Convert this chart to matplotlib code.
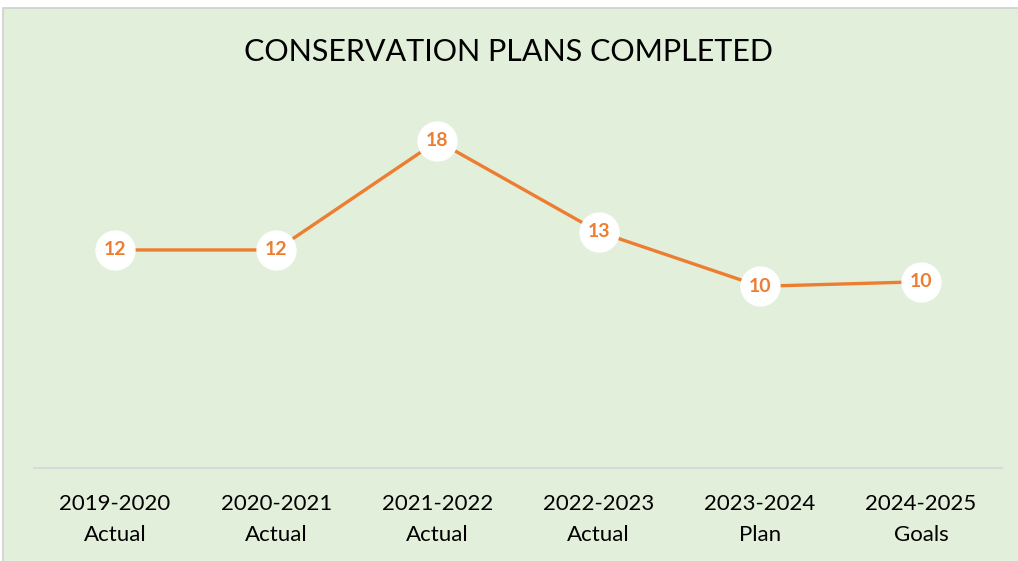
import matplotlib.pyplot as plt
from matplotlib.patches import Rectangle

# chart data
years = ['2019-2020', '2020-2021', '2021-2022', '2022-2023', '2023-2024', '2024-2025']
kinds = ['Actual', 'Actual', 'Actual', 'Actual', 'Plan', 'Goals']
plans = [12, 12, 18, 13, 10, 10.25]

orange = '#ED7D31'
green = '#E2EFDA'
plt.rcParams['font.family'] = ['Lato', 'DejaVu Sans']

W, H = 1018, 561
fig = plt.figure(figsize=(W / 100, H / 100), dpi=100)
fig.patch.set_facecolor('white')
# chart area background with thin grey frame
fig.patches.append(Rectangle((3 / W, -0.01), 1.02, (H - 8) / H + 0.01, transform=fig.transFigure,
                             facecolor=green, edgecolor='#D0D0D0', linewidth=1.2, zorder=-1))

left, right = 34.4 / W, 1001.6 / W
bottom = (H - 468) / H
top = (H - 104.6) / H
ax = fig.add_axes([left, bottom, right - left, top - bottom])
ax.set_facecolor('none')

x = list(range(len(years)))
ax.plot(x, plans, color=orange, linewidth=2.4, zorder=2,
        marker='o', markersize=28, markerfacecolor='white', markeredgecolor='white')
for xi, v in zip(x, plans):
    ax.text(xi, v, f'{v:.0f}', ha='center', va='center', color=orange,
            fontsize=14, fontweight='bold', zorder=3)

ax.set_xlim(-0.5, len(years) - 0.5)
ax.set_ylim(0, 20)
ax.set_yticks([])
ax.set_xticks(x)
ax.set_xticklabels([f'{a}\n{b}' for a, b in zip(years, kinds)], fontsize=16, linespacing=1.65)
ax.tick_params(axis='x', length=0, pad=19)
for s in ['top', 'right', 'left']:
    ax.spines[s].set_visible(False)
ax.spines['bottom'].set_color('#D9D9D9')
ax.spines['bottom'].set_linewidth(1.5)

fig.text(0.5, (H - 52) / H, 'CONSERVATION PLANS COMPLETED', ha='center', va='center',
         fontsize=22, color='black')

fig.savefig('out.png', dpi=100)
